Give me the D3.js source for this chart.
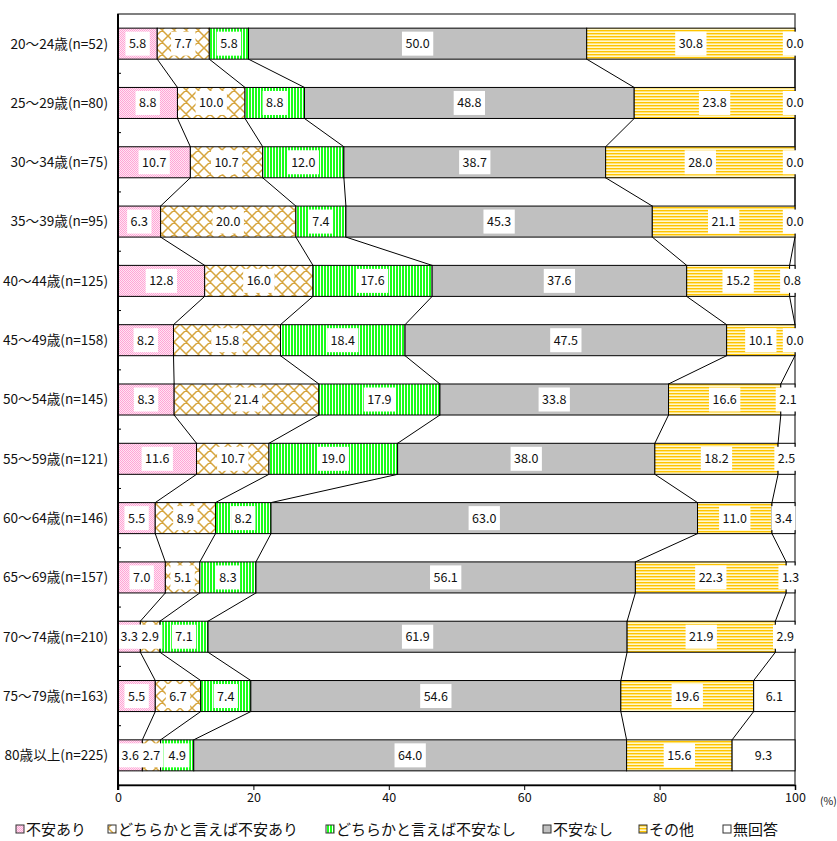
<!DOCTYPE html>
<html><head><meta charset="utf-8">
<script src="https://cdn.jsdelivr.net/npm/d3@7"></script>
<style>
html,body{margin:0;padding:0;background:#fff;}
svg{display:block;font-family:"Noto Sans CJK JP","Noto Sans",sans-serif;}
</style></head>
<body><svg id="chart" width="837" height="841"></svg>
<script>
const categories = ["20～24歳(n=52)","25～29歳(n=80)","30～34歳(n=75)","35～39歳(n=95)","40～44歳(n=125)","45～49歳(n=158)","50～54歳(n=145)","55～59歳(n=121)","60～64歳(n=146)","65～69歳(n=157)","70～74歳(n=210)","75～79歳(n=163)","80歳以上(n=225)"];
const seriesNames = ["不安あり","どちらかと言えば不安あり","どちらかと言えば不安なし","不安なし","その他","無回答"];
const s1 = [5.8, 8.8, 10.7, 6.3, 12.8, 8.2, 8.3, 11.6, 5.5, 7.0, 3.3, 5.5, 3.6];
const s2 = [7.7, 10.0, 10.7, 20.0, 16.0, 15.8, 21.4, 10.7, 8.9, 5.1, 2.9, 6.7, 2.7];
const s3 = [5.8, 8.8, 12.0, 7.4, 17.6, 18.4, 17.9, 19.0, 8.2, 8.3, 7.1, 7.4, 4.9];
const s4 = [50.0, 48.8, 38.7, 45.3, 37.6, 47.5, 33.8, 38.0, 63.0, 56.1, 61.9, 54.6, 64.0];
const s5 = [30.8, 23.8, 28.0, 21.1, 15.2, 10.1, 16.6, 18.2, 11.0, 22.3, 21.9, 19.6, 15.6];
const s6 = [0.0, 0.0, 0.0, 0.0, 0.8, 0.0, 2.1, 2.5, 3.4, 1.3, 2.9, 6.1, 9.3];
const xTicks = [0, 20, 40, 60, 80, 100];

const seriesValues = [s1, s2, s3, s4, s5, s6];
const rows = categories.map((c, i) => {
  const o = {cat: c};
  seriesNames.forEach((s, k) => o[s] = seriesValues[k][i]);
  return o;
});

const svg = d3.select("#chart");
const L = 118, R = 795, T = 14, B = 785;

const x = d3.scaleLinear().domain([0, 100]).range([L, R]);
const y = d3.scaleBand().domain(categories).range([T, B]).paddingInner(0.477).paddingOuter(0.2385);
const bw = y.bandwidth();

// patterns
const defs = svg.append("defs");
const p1 = defs.append("pattern").attr("id","pat0").attr("patternUnits","userSpaceOnUse").attr("width",2).attr("height",2);
p1.append("rect").attr("width",2).attr("height",2).attr("fill","#ffe4f2");
p1.append("rect").attr("x",0).attr("y",0).attr("width",1).attr("height",1).attr("fill","#ffa6d6");
p1.append("rect").attr("x",1).attr("y",1).attr("width",1).attr("height",1).attr("fill","#ffa6d6");

const P = 12;
const p2 = defs.append("pattern").attr("id","pat1").attr("patternUnits","userSpaceOnUse").attr("width",P).attr("height",P);
p2.append("rect").attr("width",P).attr("height",P).attr("fill","#fff");
p2.append("path").attr("d",`M0,0L${P},${P}M${P},0L0,${P}M-1,${P-1}L1,${P+1}M${P-1},-1L${P+1},1M-1,1L1,-1M${P-1},${P+1}L${P+1},${P-1}`)
  .attr("stroke","#d6a53e").attr("stroke-width",1.5).attr("fill","none");

const p3 = defs.append("pattern").attr("id","pat2").attr("patternUnits","userSpaceOnUse").attr("width",3).attr("height",3);
p3.append("rect").attr("width",3).attr("height",3).attr("fill","#fff");
p3.append("rect").attr("width",2).attr("height",3).attr("fill","#1aff1a");

const p5 = defs.append("pattern").attr("id","pat4").attr("patternUnits","userSpaceOnUse").attr("width",3).attr("height",3);
p5.append("rect").attr("width",3).attr("height",3).attr("fill","#fff8cc");
p5.append("rect").attr("width",3).attr("height",1.4).attr("fill","#ffc400");

const fills = ["url(#pat0)","url(#pat1)","url(#pat2)","#c0c0c0","url(#pat4)","#ffffff"];

// frame
svg.append("rect").attr("x",L).attr("y",T).attr("width",R-L).attr("height",B-T)
  .attr("fill","none").attr("stroke","#555").attr("stroke-width",1.5);

const stack = d3.stack().keys(seriesNames).offset(d3.stackOffsetExpand);
const stacked = stack(rows);
const xs = v => x(v * 100);

// connector lines
const conn = svg.append("g").attr("stroke","#000").attr("stroke-width",1);
for (let k = 0; k < 5; k++) {
  for (let i = 0; i < categories.length - 1; i++) {
    conn.append("line")
      .attr("x1", xs(stacked[k][i][1])).attr("y1", y(categories[i]) + bw)
      .attr("x2", xs(stacked[k][i+1][1])).attr("y2", y(categories[i+1]));
  }
}

// bars
stacked.forEach((ser, k) => {
  svg.append("g").selectAll("rect").data(ser).join("rect")
    .attr("x", d => xs(d[0]))
    .attr("y", d => y(d.data.cat))
    .attr("width", d => Math.max(0, xs(d[1]) - xs(d[0])))
    .attr("height", bw)
    .attr("fill", fills[k])
    .attr("stroke", "#000").attr("stroke-width", 1);
});

// value labels
const lab = svg.append("g").attr("font-size", 12.5).attr("fill", "#111");
stacked.forEach((ser, k) => {
  ser.forEach((d, i) => {
    const cx = (xs(d[0]) + xs(d[1])) / 2;
    const cy = y(d.data.cat) + bw / 2;
    const g = lab.append("g");
    const r = g.append("rect").attr("fill", "#fff");
    const t = g.append("text").attr("x", cx).attr("y", cy).attr("text-anchor","middle")
      .attr("dy","0.36em").text(seriesValues[k][i].toFixed(1));
    const w = t.node().getComputedTextLength() + 7;
    r.attr("x", cx - w/2).attr("y", cy - 12).attr("width", w).attr("height", 24);
  });
});

// left axis
svg.append("line").attr("x1",L).attr("x2",L).attr("y1",T).attr("y2",B+5).attr("stroke","#000").attr("stroke-width",2);
const step = y.step();
for (let i = 1; i < categories.length; i++) {
  svg.append("line").attr("x1",L).attr("x2",L+3).attr("y1",T+i*step).attr("y2",T+i*step).attr("stroke","#000");
}
svg.append("g").attr("font-size",13.6).attr("fill","#111").selectAll("text").data(categories).join("text")
  .attr("x", 108).attr("y", d => y(d) + bw/2).attr("dy","0.36em").attr("text-anchor","end").text(d => d);

// bottom axis
const xa = svg.append("g").attr("transform", `translate(0,${B})`)
  .call(d3.axisBottom(x).tickValues(xTicks).tickSize(5).tickFormat(d3.format("d")));
xa.select(".domain").attr("stroke","#000").attr("stroke-width",1.5);
xa.selectAll("line").attr("stroke","#000");
xa.selectAll("text").attr("font-size",12.5).attr("fill","#111").attr("font-family","'Noto Sans CJK JP',sans-serif");
svg.append("text").attr("x",820).attr("y",805).attr("font-size",10.5).attr("fill","#111").text("(%)");

// legend
const legX = [16, 108, 326, 543, 639, 723];
const leg = svg.append("g");
seriesNames.forEach((s, k) => {
  leg.append("rect").attr("x", legX[k]).attr("y", 825).attr("width", 8).attr("height", 8)
    .attr("fill", fills[k]).attr("stroke", "#333").attr("stroke-width", 1);
  leg.append("text").attr("x", legX[k] + 10).attr("y", 829).attr("dy","0.38em")
    .attr("font-size", 15).attr("fill","#111").text(s);
});
</script>
</body></html>
